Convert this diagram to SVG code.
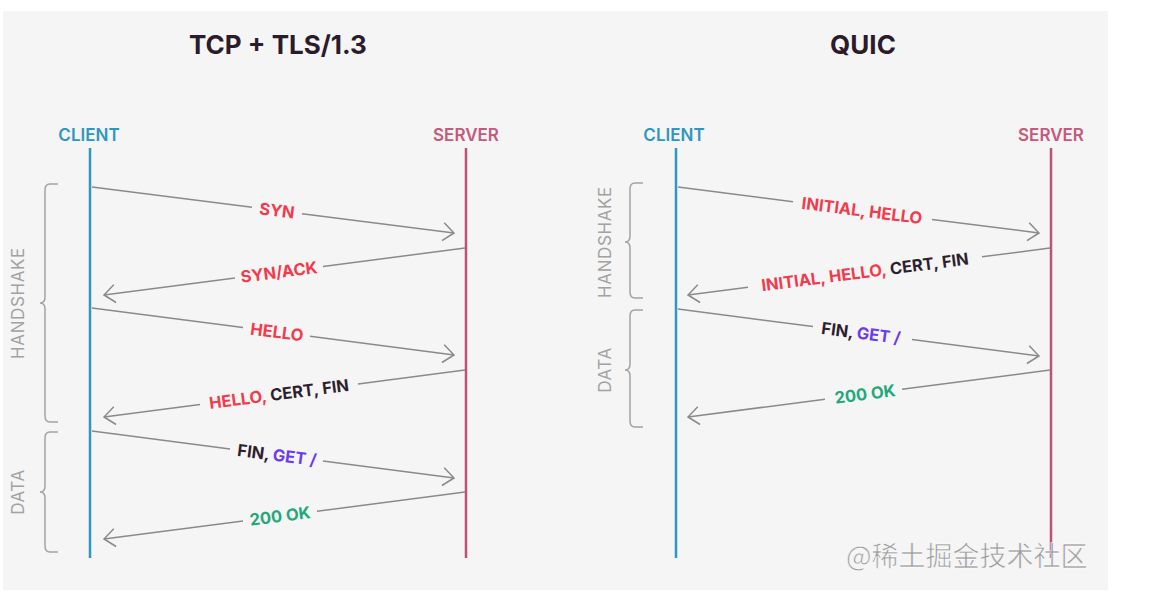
<svg xmlns="http://www.w3.org/2000/svg" width="1159" height="598" viewBox="0 0 1159 598">
<style>
.title{font-family:Inter,"Noto Sans",sans-serif;font-weight:700;font-size:26px;fill:#2c1b2b;text-anchor:middle}
.client{font-family:Inter,"Noto Sans",sans-serif;font-weight:600;font-size:17px;fill:#2f97bd;text-anchor:middle}
.server{font-family:Inter,"Noto Sans",sans-serif;font-weight:600;font-size:17px;fill:#c45a7c;text-anchor:middle}
.cl{stroke:#2f97c4;stroke-width:2.5;fill:none}
.sl{stroke:#c0507a;stroke-width:2.5;fill:none}
.msg{stroke:#8a8a8a;stroke-width:1.5;fill:none}
.lbl{font-family:Inter,"Noto Sans",sans-serif;font-weight:700;font-size:16.5px;text-anchor:middle}
.red{fill:#f23a4c}.dark{fill:#2e1f2e}.pur{fill:#6a3cf0}.grn{fill:#1fa97a}
.brace{stroke:#a2a2a2;stroke-width:1.5;fill:none}
.side{font-family:Inter,"Noto Sans",sans-serif;font-size:17px;letter-spacing:0.6px;fill:#a2a2a2;text-anchor:middle}
.wm{font-family:"Noto Sans CJK SC",sans-serif;font-size:27px;fill:#9c9c9c;stroke:#ffffff;stroke-width:0.5}
</style>
<defs>
<marker id="ah" markerUnits="userSpaceOnUse" markerWidth="30" markerHeight="30" refX="15" refY="15" orient="auto" viewBox="0 0 30 30">
<path d="M4,6 L15,15 L4,24" stroke="#8a8a8a" stroke-width="1.5" fill="none"/>
</marker>
</defs>
<rect x="0" y="0" width="1159" height="598" fill="#ffffff"/>
<rect x="3" y="11" width="1105" height="579" fill="#f5f5f5"/>

<g id="tcp-title"><text class="title" x="278" y="54">TCP + TLS/1.3</text></g>
<g id="quic-title"><text class="title" x="863" y="54">QUIC</text></g>

<g id="tcp-client"><text class="client" x="89" y="141">CLIENT</text><line class="cl" x1="90" y1="148" x2="90" y2="558"/></g>
<g id="tcp-server"><text class="server" x="466" y="141">SERVER</text><line class="sl" x1="466" y1="148" x2="466" y2="558"/></g>
<g id="quic-client"><text class="client" x="674" y="141">CLIENT</text><line class="cl" x1="676" y1="148" x2="676" y2="558"/></g>
<g id="quic-server"><text class="server" x="1051" y="141">SERVER</text><line class="sl" x1="1051" y1="148" x2="1051" y2="558"/></g>

<g id="tcp-handshake">
<path class="brace" d="M58,184 H50 Q45,184 45,190 V297 Q45,303 40,303 Q45,303 45,309 V416 Q45,422 50,422 H58"/>
<text class="side" transform="translate(24,303) rotate(-90)">HANDSHAKE</text>
</g>
<g id="tcp-data">
<path class="brace" d="M58,432 H50 Q45,432 45,438 V486 Q45,492 40,492 Q45,492 45,498 V546 Q45,552 50,552 H58"/>
<text class="side" transform="translate(24,492) rotate(-90)">DATA</text>
</g>
<g id="quic-handshake">
<path class="brace" d="M643,183 H635 Q630,183 630,189 V236 Q630,242 625,242 Q630,242 630,248 V292 Q630,298 635,298 H643"/>
<text class="side" transform="translate(611,242) rotate(-90)">HANDSHAKE</text>
</g>
<g id="quic-data">
<path class="brace" d="M643,310 H635 Q630,310 630,316 V364 Q630,370 625,370 Q630,370 630,376 V421 Q630,427 635,427 H643"/>
<text class="side" transform="translate(611,370) rotate(-90)">DATA</text>
</g>

<g id="connectors">
<line class="msg" x1="92" y1="187" x2="252" y2="207.3"/>
<line class="msg" x1="302" y1="213.7" x2="454" y2="233" marker-end="url(#ah)"/>
<line class="msg" x1="465" y1="248" x2="323" y2="266.5"/>
<line class="msg" x1="235" y1="277.9" x2="104" y2="295" marker-end="url(#ah)"/>
<line class="msg" x1="92" y1="308" x2="243" y2="327.6"/>
<line class="msg" x1="310" y1="336.3" x2="454" y2="355" marker-end="url(#ah)"/>
<line class="msg" x1="465" y1="370" x2="358" y2="383.9"/>
<line class="msg" x1="200" y1="404.5" x2="104" y2="417" marker-end="url(#ah)"/>
<line class="msg" x1="92" y1="431" x2="230" y2="448.9"/>
<line class="msg" x1="323" y1="461" x2="454" y2="478" marker-end="url(#ah)"/>
<line class="msg" x1="465" y1="492" x2="317" y2="511.3"/>
<line class="msg" x1="243" y1="520.9" x2="104" y2="539" marker-end="url(#ah)"/>

<line class="msg" x1="678" y1="187" x2="793" y2="201.7"/>
<line class="msg" x1="932" y1="219.4" x2="1039" y2="233" marker-end="url(#ah)"/>
<line class="msg" x1="1050" y1="248" x2="982" y2="256.8"/>
<line class="msg" x1="748" y1="287.2" x2="688" y2="295" marker-end="url(#ah)"/>
<line class="msg" x1="678" y1="309" x2="813" y2="326.6"/>
<line class="msg" x1="912" y1="339.5" x2="1039" y2="356" marker-end="url(#ah)"/>
<line class="msg" x1="1050" y1="370" x2="902" y2="389.2"/>
<line class="msg" x1="825" y1="399.2" x2="688" y2="417" marker-end="url(#ah)"/>

<text class="lbl" transform="translate(277,210.5) rotate(7.3)" dy="0.36em"><tspan class="red">SYN</tspan></text>
<text class="lbl" transform="translate(279,272) rotate(-7.4)" dy="0.36em"><tspan class="red">SYN/ACK</tspan></text>
<text class="lbl" transform="translate(277,332) rotate(7.4)" dy="0.36em"><tspan class="red">HELLO</tspan></text>
<text class="lbl" transform="translate(279,394) rotate(-7.4)" dy="0.36em"><tspan class="red">HELLO,</tspan><tspan class="dark"> CERT, FIN</tspan></text>
<text class="lbl" transform="translate(277,455) rotate(7.4)" dy="0.36em"><tspan class="dark">FIN, </tspan><tspan class="pur">GET /</tspan></text>
<text class="lbl" transform="translate(280,516) rotate(-7.4)" dy="0.36em"><tspan class="grn">200 OK</tspan></text>

<text class="lbl" transform="translate(862,210.5) rotate(7.3)" dy="0.36em"><tspan class="red">INITIAL, HELLO</tspan></text>
<text class="lbl" transform="translate(865,272) rotate(-7.4)" dy="0.36em"><tspan class="red">INITIAL, HELLO,</tspan><tspan class="dark"> CERT, FIN</tspan></text>
<text class="lbl" transform="translate(861,333) rotate(7.4)" dy="0.36em"><tspan class="dark">FIN, </tspan><tspan class="pur">GET /</tspan></text>
<text class="lbl" transform="translate(865,394) rotate(-7.4)" dy="0.36em"><tspan class="grn">200 OK</tspan></text>
</g>

<text class="wm" x="846" y="566">@稀土掘金技术社区</text>
</svg>
